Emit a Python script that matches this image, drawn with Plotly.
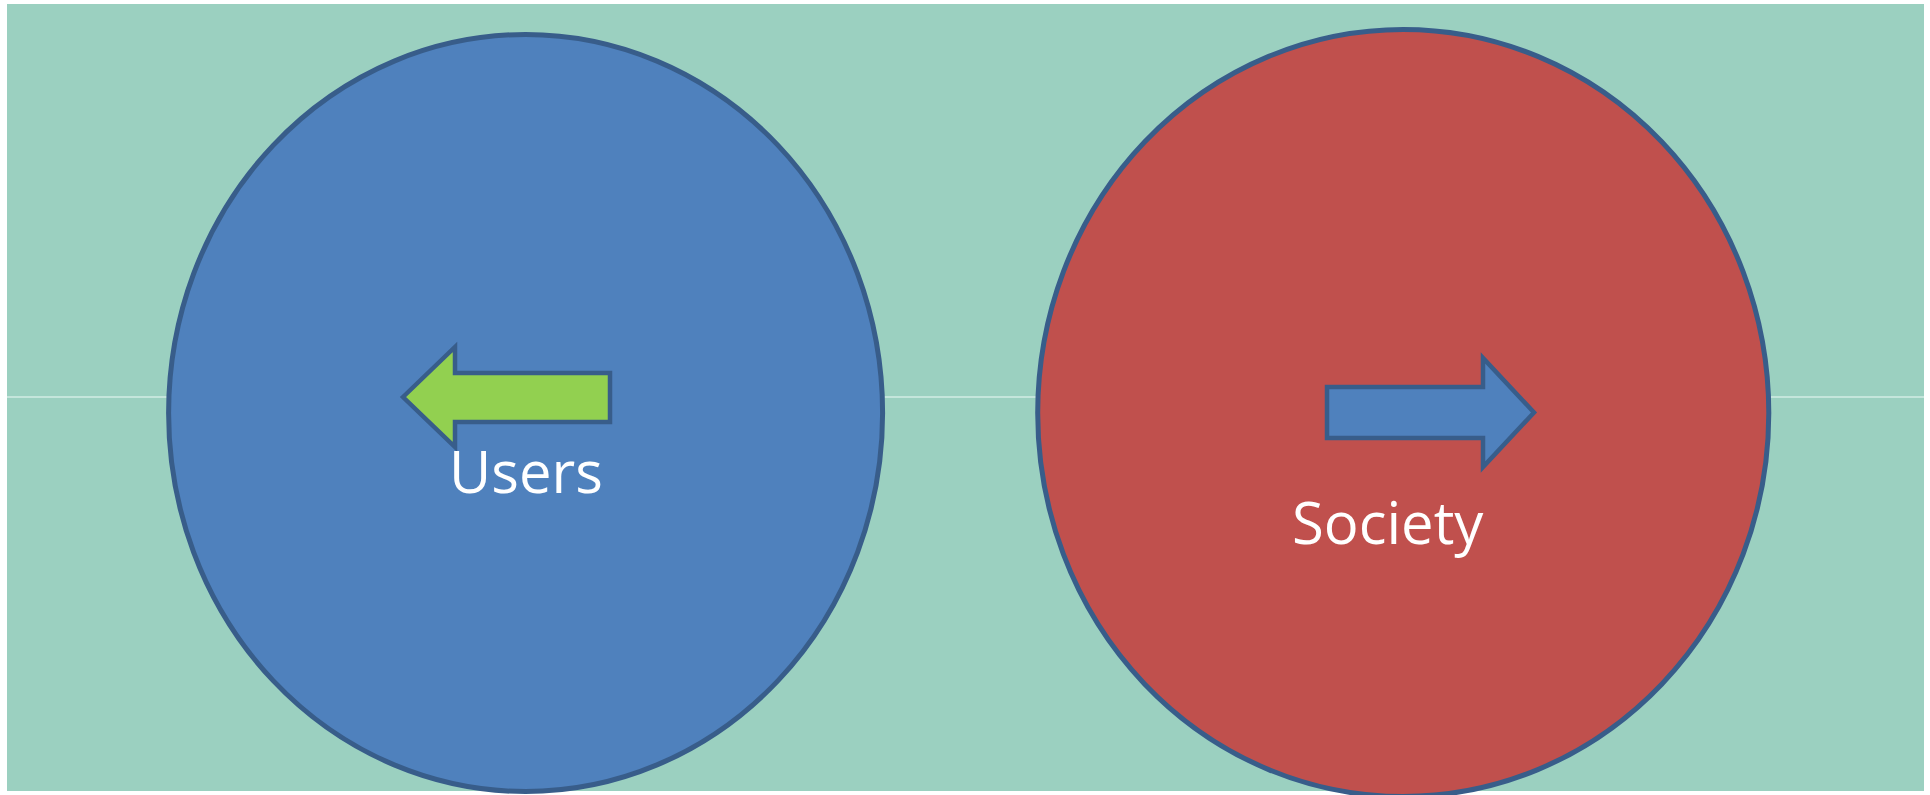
import plotly.graph_objects as go

# Diagram content
labels = ["Users", "Society"]
label_x = [526, 1388]
label_y = [470, 521]

W, H = 1930, 795
TEAL = "#9BD0C0"
BLUE = "#4F81BD"
RED = "#C0504D"
GREEN = "#92D050"
STROKE = "#385D8A"

fig = go.Figure()

shapes = [
    dict(type="rect", xref="x", yref="y", x0=7, x1=1924, y0=4, y1=791,
         fillcolor=TEAL, line=dict(width=0), layer="below"),
    dict(type="line", xref="x", yref="y", x0=7, x1=1924, y0=397, y1=397,
         line=dict(color="#D2ECE4", width=1.5), layer="below"),
    dict(type="circle", xref="x", yref="y", x0=168.6, x1=882.6, y0=34.5, y1=791.5,
         fillcolor=BLUE, line=dict(color=STROKE, width=5), layer="below"),
    dict(type="circle", xref="x", yref="y", x0=1037.7, x1=1768.8, y0=29.5, y1=796.5,
         fillcolor=RED, line=dict(color=STROKE, width=5), layer="below"),
    dict(type="path", xref="x", yref="y",
         path="M403,397 L455,347 L455,373 L610,373 L610,422 L455,422 L455,447 Z",
         fillcolor=GREEN, line=dict(color=STROKE, width=4.5), layer="below"),
    dict(type="path", xref="x", yref="y",
         path="M1327,387 L1483,387 L1483,358 L1534,412.5 L1483,467 L1483,438 L1327,438 Z",
         fillcolor=BLUE, line=dict(color=STROKE, width=4.5), layer="below"),
]

fig.add_trace(go.Scatter(x=[0, W], y=[0, H], mode="markers",
                         marker=dict(opacity=0), hoverinfo="skip", showlegend=False))

annotations = [
    dict(x=x, y=y, xref="x", yref="y", text=t, showarrow=False,
         font=dict(family="Open Sans, Lato, sans-serif", size=58, color="white"),
         xanchor="center", yanchor="middle")
    for t, x, y in zip(labels, label_x, label_y)
]

fig.update_layout(
    width=W, height=H,
    margin=dict(l=0, r=0, t=0, b=0),
    paper_bgcolor="white", plot_bgcolor="white",
    xaxis=dict(range=[0, W], visible=False, fixedrange=True),
    yaxis=dict(range=[H, 0], visible=False, fixedrange=True),
    shapes=shapes,
    annotations=annotations,
    showlegend=False,
)

fig.write_html(
    "out.html",
    config={"displayModeBar": False},
    post_script="document.body.style.margin='0';document.body.style.overflow='hidden';",
)
